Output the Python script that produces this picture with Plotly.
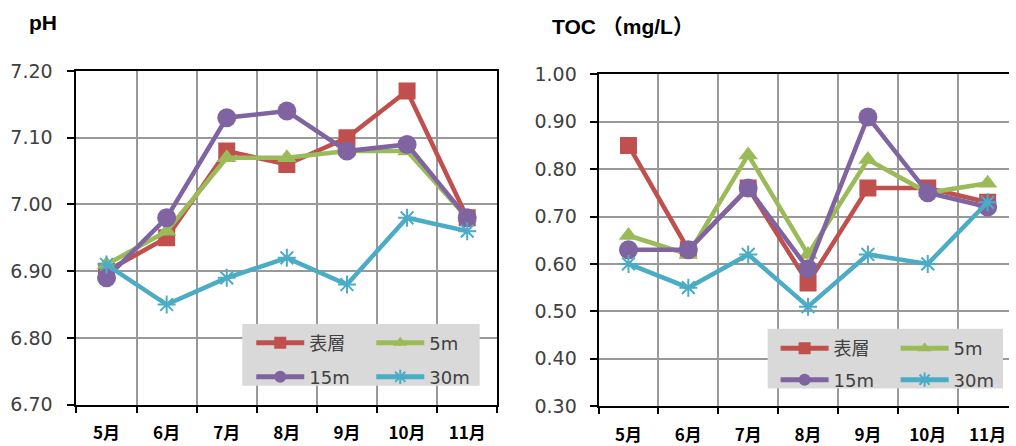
import plotly.graph_objects as go

months = ["5月", "6月", "7月", "8月", "9月", "10月", "11月"]
series_names = ["表層", "5m", "15m", "30m"]

ph_surface = [6.90, 6.95, 7.08, 7.06, 7.10, 7.17, 6.98]
ph_5m = [6.91, 6.96, 7.07, 7.07, 7.08, 7.08, 6.98]
ph_15m = [6.89, 6.98, 7.13, 7.14, 7.08, 7.09, 6.98]
ph_30m = [6.91, 6.85, 6.89, 6.92, 6.88, 6.98, 6.96]

toc_surface = [0.85, 0.63, 0.76, 0.56, 0.76, 0.76, 0.73]
toc_5m = [0.66, 0.62, 0.83, 0.62, 0.82, 0.75, 0.77]
toc_15m = [0.63, 0.63, 0.76, 0.59, 0.91, 0.75, 0.72]
toc_30m = [0.60, 0.55, 0.62, 0.51, 0.62, 0.60, 0.73]

colors = ["#C0504D", "#9BBB59", "#8064A2", "#4BACC6"]
symbols = ["square", "triangle-up", "circle", "asterisk-open"]
sizes = [17, 17, 19, 15]

W, H = 1016, 446
def px(x):
    return x / W
def py(y):
    return 1 - y / H

fig = go.Figure()

ph_data = [ph_surface, ph_5m, ph_15m, ph_30m]
toc_data = [toc_surface, toc_5m, toc_15m, toc_30m]
left_legends = ["legend", "legend", "legend3", "legend3"]
right_legends = ["legend2", "legend2", "legend4", "legend4"]

for i, name in enumerate(series_names):
    mk = dict(symbol=symbols[i], size=sizes[i], color=colors[i],
              line=dict(color=colors[i], width=2 if i == 3 else 0))
    fig.add_trace(go.Scatter(x=months, y=ph_data[i], name=name, mode="lines+markers",
                             line=dict(color=colors[i], width=4.5), marker=mk,
                             xaxis="x", yaxis="y", legend=left_legends[i]))
for i, name in enumerate(series_names):
    mk = dict(symbol=symbols[i], size=sizes[i], color=colors[i],
              line=dict(color=colors[i], width=2 if i == 3 else 0))
    fig.add_trace(go.Scatter(x=months, y=toc_data[i], name=name, mode="lines+markers",
                             line=dict(color=colors[i], width=4.5), marker=mk,
                             xaxis="x2", yaxis="y2", legend=right_legends[i]))

tickfont_y = dict(family="DejaVu Sans", size=19, color="#404040")
tickfont_x = dict(family="Noto Sans CJK JP", size=17, color="#000000", weight="bold")
grid = dict(showgrid=True, gridcolor="#999999", gridwidth=2)

common_x = dict(type="category", tickson="boundaries", ticks="outside", ticklen=6,
                tickwidth=2, tickcolor="#000", showline=True, linecolor="#000",
                linewidth=2, tickfont=tickfont_x, zeroline=False,
                ticklabelstandoff=12, **grid)
common_y = dict(ticks="outside", ticklen=7, tickwidth=2, tickcolor="#000",
                showline=True, linecolor="#000", linewidth=2, tickfont=tickfont_y,
                tickformat=".2f", dtick=0.1, zeroline=False, **grid)

fig.update_layout(
    width=W, height=H, margin=dict(l=0, r=0, t=0, b=0),
    paper_bgcolor="white", plot_bgcolor="white",
    xaxis=dict(domain=[px(77), px(500.7)], anchor="y", range=[-0.5, 6.5],
               mirror=True, **common_x),
    yaxis=dict(domain=[py(415), py(63.3)], anchor="x", range=[6.70, 7.20],
               mirror=True, ticklabelstandoff=11, **common_y),
    xaxis2=dict(domain=[px(602.7), 1.0], anchor="y2",
                range=[-0.5, -0.5 + (1016 - 602.7) / 60.27], mirror=True, **common_x),
    yaxis2=dict(domain=[py(416.7), py(66.7)], anchor="x2", range=[0.30, 1.00],
                mirror=False, ticklabelstandoff=9, **common_y),
    showlegend=True,
)

leg_common = dict(orientation="h", bgcolor="rgba(0,0,0,0)", borderwidth=0,
                  xanchor="left", yanchor="middle", itemwidth=48,
                  entrywidth=57, entrywidthmode="pixels", itemsizing="constant",
                  font=dict(family="DejaVu Sans, Noto Sans CJK JP", size=18, color="#404040"),
                  itemclick=False, itemdoubleclick=False)
fig.update_layout(
    legend=dict(x=px(253), y=py(350), **leg_common),
    legend3=dict(x=px(253), y=py(386), **leg_common),
    legend2=dict(x=px(781), y=py(356), **leg_common),
    legend4=dict(x=px(781), y=py(389), **leg_common),
)

fig.add_shape(type="rect", xref="paper", yref="paper", x0=px(244), x1=px(483),
              y0=py(395), y1=py(330), fillcolor="#D9D9D9", line=dict(width=0), layer="above")
fig.add_shape(type="rect", xref="paper", yref="paper", x0=px(773), x1=px(1010),
              y0=py(398), y1=py(335), fillcolor="#D9D9D9", line=dict(width=0), layer="above")

title_font = dict(family="Liberation Sans, Noto Sans CJK JP", size=21, color="#000", weight="bold")
fig.add_annotation(text="pH", xref="paper", yref="paper", x=px(43.5), y=py(12),
                   xanchor="center", yanchor="middle", showarrow=False, font=title_font)
fig.add_annotation(text="TOC （mg/L）", xref="paper", yref="paper", x=px(627), y=py(16),
                   xanchor="center", yanchor="middle", showarrow=False, font=title_font)

fig.write_html("out.html")
